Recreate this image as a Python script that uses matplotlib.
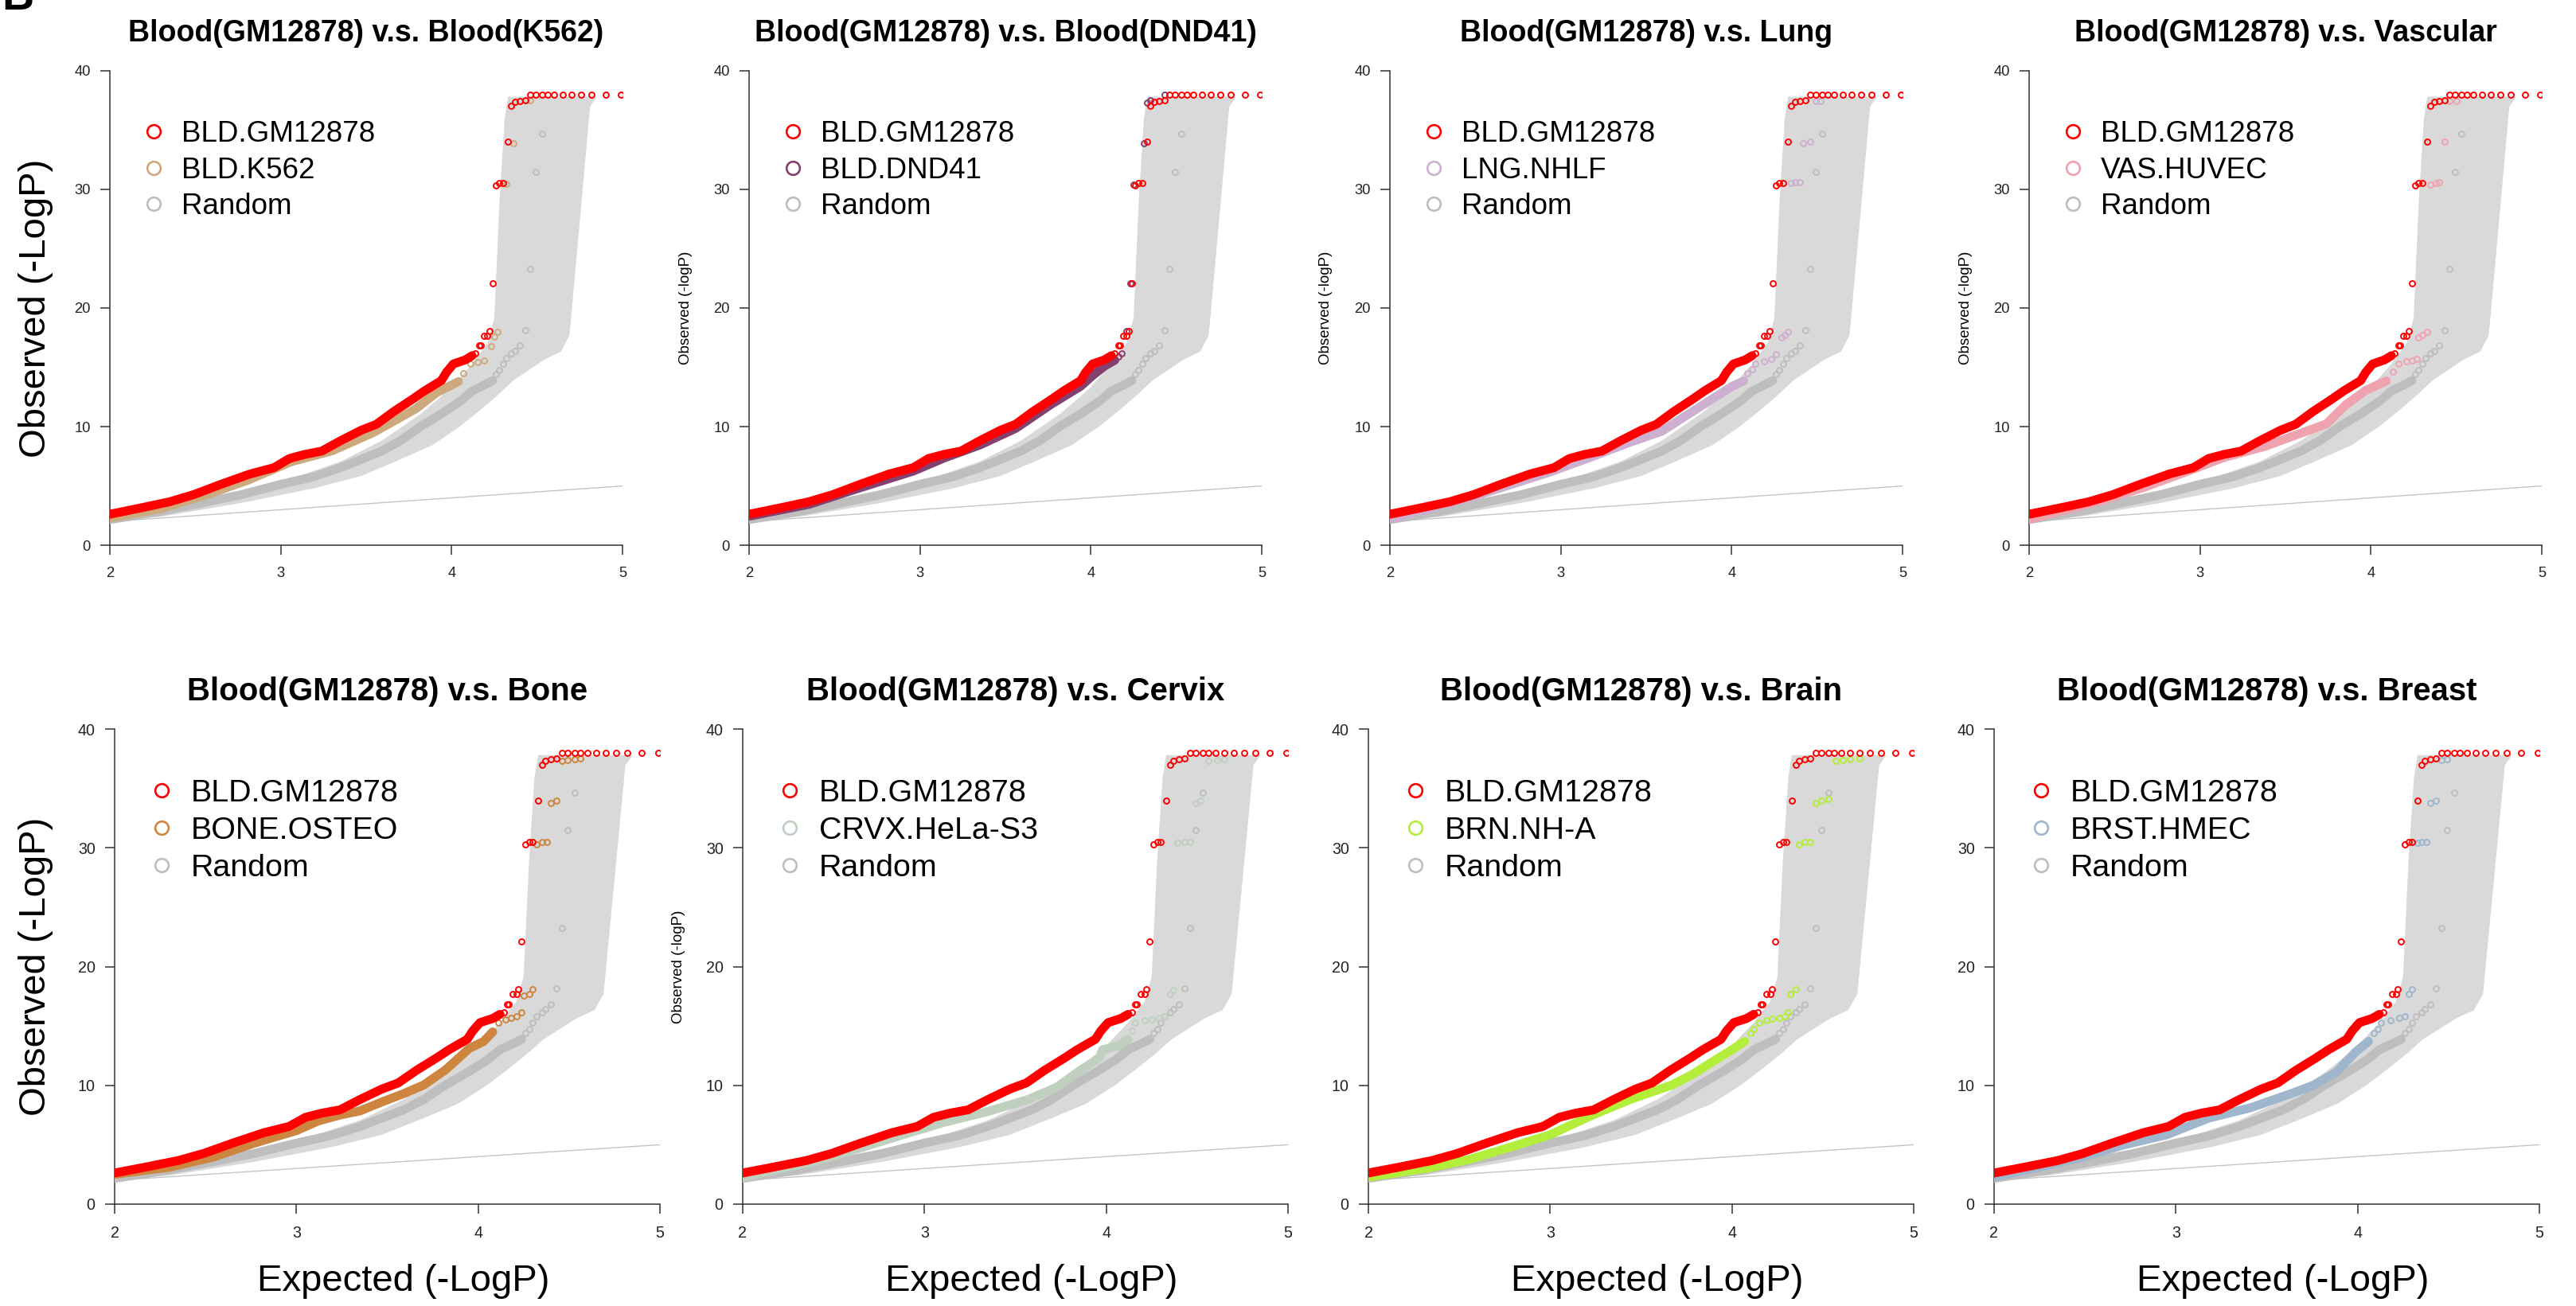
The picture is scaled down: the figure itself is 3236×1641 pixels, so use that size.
import matplotlib
matplotlib.use("Agg")
import matplotlib.pyplot as plt
from matplotlib.lines import Line2D

plt.rcParams['font.family'] = ['Liberation Sans', 'DejaVu Sans']

# ---- shared curves (same in every panel) ----
red_dense_x = [2.00, 2.18, 2.35, 2.49, 2.65, 2.82, 2.96, 3.05, 3.14, 3.24, 3.35, 3.47, 3.56, 3.66, 3.77, 3.84, 3.94, 3.97, 4.01, 4.08, 4.12]
red_dense_y = [2.62, 3.15, 3.67, 4.27, 5.14, 6.01, 6.54, 7.31, 7.66, 7.94, 8.81, 9.69, 10.2, 11.26, 12.3, 13.0, 13.88, 14.58, 15.28, 15.63, 15.98]
red_sparse_x = [4.14, 4.16, 4.17, 4.19, 4.21, 4.22, 4.24, 4.26, 4.28, 4.30, 4.33, 4.35, 4.37, 4.40, 4.43,
                4.46, 4.49, 4.53, 4.56, 4.60, 4.65, 4.70, 4.76, 4.82, 4.90, 4.99]
red_sparse_y = [16.15, 16.85, 16.85, 17.66, 17.66, 18.08, 22.1, 30.3, 30.5, 30.5, 34.0, 37.0, 37.34, 37.45, 37.5,
                38.0, 38.0, 38.0, 38.0, 38.0, 38.0, 38.0, 38.0, 38.0, 38.0, 38.0]

random_dense_x = [2.00, 2.30, 2.54, 2.77, 3.00, 3.19, 3.35, 3.47, 3.59, 3.70, 3.82, 3.94, 4.05, 4.12, 4.19, 4.24]
random_dense_y = [2.17, 2.87, 3.57, 4.27, 5.14, 5.77, 6.54, 7.24, 7.94, 8.81, 10.03, 11.08, 12.13, 13.0, 13.5, 13.88]
random_sparse_x = [4.26, 4.28, 4.30, 4.32, 4.35, 4.37, 4.40, 4.43, 4.46, 4.49, 4.53]
random_sparse_y = [14.4, 14.75, 15.28, 15.8, 16.15, 16.4, 16.85, 18.15, 23.25, 31.47, 34.65]

band_x = [2.00, 3.00, 3.35, 3.59, 3.82, 3.99, 4.12, 4.21, 4.25, 4.28, 4.31, 4.33, 4.85, 4.81, 4.76, 4.69,
          4.64, 4.54, 4.45, 4.36, 4.27, 4.17, 4.05, 3.89, 3.70, 3.47, 3.19, 2.77, 2.30, 2.00]
band_y = [2.27, 5.30, 7.06, 8.81, 11.08, 13.18, 15.28, 17.03, 19.13, 28.9, 35.9, 37.8, 37.8, 36.96, 28.9, 17.7,
          16.33, 15.63, 14.75, 13.88, 12.66, 11.43, 10.03, 8.46, 7.24, 5.84, 4.79, 3.57, 2.41, 2.06]

diag = [2, 5]

# ---- comparison cell types ----
titles = ["Blood(GM12878) v.s. Blood(K562)", "Blood(GM12878) v.s. Blood(DND41)",
          "Blood(GM12878) v.s. Lung", "Blood(GM12878) v.s. Vascular",
          "Blood(GM12878) v.s. Bone", "Blood(GM12878) v.s. Cervix",
          "Blood(GM12878) v.s. Brain", "Blood(GM12878) v.s. Breast"]
labels = ["BLD.K562", "BLD.DND41", "LNG.NHLF", "VAS.HUVEC", "BONE.OSTEO", "CRVX.HeLa-S3", "BRN.NH-A", "BRST.HMEC"]
colors = ["#CDAA7D", "#84406F", "#CDB0CF", "#EFA3AE", "#CD853F", "#BFD0BF", "#B3EE3A", "#9FB6CD"]

k562_dense_x = [2.00, 2.30, 2.57, 2.81, 3.06, 3.30, 3.54, 3.79, 3.91, 4.04]
k562_dense_y = [2.30, 3.10, 4.28, 5.50, 7.04, 7.96, 9.49, 11.5, 12.85, 13.8]
k562_sparse_x = [4.07, 4.11, 4.15, 4.19, 4.23, 4.25, 4.27, 4.32, 4.36, 4.46]
k562_sparse_y = [14.5, 15.3, 15.45, 15.6, 16.8, 17.6, 18.0, 30.45, 33.9, 37.5]

dnd41_dense_x = [2.00, 2.35, 2.65, 2.96, 3.14, 3.35, 3.56, 3.77, 3.94, 4.01, 4.08, 4.14]
dnd41_dense_y = [2.45, 3.45, 4.85, 6.25, 7.35, 8.45, 9.85, 11.9, 13.4, 14.3, 15.1, 15.6]
dnd41_sparse_x = [4.16, 4.18, 4.21, 4.23, 4.25, 4.31, 4.33, 4.35, 4.43]
dnd41_sparse_y = [15.9, 16.2, 18.06, 22.1, 30.36, 33.9, 37.3, 37.5, 37.95]

nhlf_dense_x = [2.00, 2.45, 2.69, 2.93, 3.17, 3.40, 3.59, 3.76, 3.88, 4.00, 4.07]
nhlf_dense_y = [2.2, 3.93, 5.04, 6.14, 7.4, 8.66, 9.6, 11.17, 12.27, 13.38, 13.85]
nhlf_sparse_x = [4.09, 4.12, 4.14, 4.19, 4.23, 4.26, 4.29, 4.31, 4.33, 4.35, 4.37, 4.40, 4.42, 4.46, 4.49, 4.52]
nhlf_sparse_y = [14.5, 14.8, 15.3, 15.5, 15.7, 16.1, 17.5, 17.7, 18.0, 30.5, 30.6, 30.6, 33.9, 34.0, 37.4, 37.45]

huvec_dense_x = [2.00, 2.43, 2.67, 2.91, 3.14, 3.38, 3.62, 3.74, 3.85, 3.97, 4.09]
huvec_dense_y = [2.2, 3.78, 4.88, 6.14, 7.4, 8.34, 9.6, 10.23, 11.8, 13.06, 13.85]
huvec_sparse_x = [4.13, 4.16, 4.21, 4.24, 4.27, 4.28, 4.30, 4.33, 4.35, 4.38, 4.40, 4.43, 4.46, 4.50]
huvec_sparse_y = [14.6, 15.3, 15.5, 15.6, 15.7, 17.5, 17.7, 18.0, 30.4, 30.5, 30.6, 34.0, 37.4, 37.45]

osteo_dense_x = [2.00, 2.30, 2.54, 2.77, 3.00, 3.12, 3.24, 3.35, 3.47, 3.59, 3.70, 3.82, 3.90, 3.95, 4.03, 4.08]
osteo_dense_y = [2.52, 3.10, 3.95, 5.14, 6.19, 7.0, 7.5, 7.85, 8.6, 9.3, 10.03, 11.3, 12.4, 13.1, 13.7, 14.5]
osteo_sparse_x = [4.11, 4.15, 4.18, 4.21, 4.24, 4.25, 4.28, 4.30, 4.32, 4.35, 4.38, 4.40, 4.43, 4.46, 4.49, 4.53, 4.56]
osteo_sparse_y = [15.28, 15.56, 15.7, 15.8, 16.15, 17.55, 17.66, 18.08, 30.3, 30.5, 30.5, 33.8, 33.95, 37.3, 37.4, 37.45, 37.5]

hela_dense_x = [2.00, 2.43, 2.66, 2.88, 3.11, 3.34, 3.57, 3.73, 3.84, 3.96, 3.98, 4.07, 4.12]
hela_dense_y = [2.27, 3.74, 4.79, 5.84, 6.89, 7.76, 8.81, 9.86, 11.08, 12.3, 13.0, 13.36, 13.88]
hela_sparse_x = [4.14, 4.16, 4.21, 4.25, 4.29, 4.32, 4.35, 4.37, 4.39, 4.43, 4.46, 4.49, 4.52, 4.56, 4.61, 4.65]
hela_sparse_y = [14.58, 15.28, 15.45, 15.56, 15.7, 15.8, 17.66, 18.0, 30.4, 30.5, 30.5, 33.8, 34.0, 37.3, 37.4, 37.45]

nha_dense_x = [2.00, 2.33, 2.55, 2.78, 3.00, 3.22, 3.44, 3.67, 3.78, 3.89, 4.00, 4.07]
nha_dense_y = [2.27, 3.04, 3.74, 4.79, 5.84, 7.41, 8.81, 10.03, 10.9, 11.96, 13.0, 13.7]
nha_sparse_x = [4.10, 4.12, 4.15, 4.19, 4.22, 4.26, 4.29, 4.31, 4.32, 4.35, 4.37, 4.40, 4.43, 4.46, 4.49, 4.53,
                4.57, 4.61, 4.65, 4.70]
nha_sparse_y = [14.4, 14.75, 15.28, 15.5, 15.63, 15.7, 15.8, 16.15, 17.66, 18.08, 30.3, 30.5, 30.5, 33.8, 33.95, 34.1,
                37.3, 37.4, 37.45, 37.5]

hmec_dense_x = [2.00, 2.48, 2.71, 2.95, 3.18, 3.41, 3.64, 3.76, 3.88, 3.99, 4.06]
hmec_dense_y = [2.27, 3.92, 4.97, 5.84, 7.24, 8.11, 9.34, 10.03, 11.08, 12.83, 13.7]
hmec_sparse_x = [4.09, 4.11, 4.13, 4.18, 4.23, 4.26, 4.28, 4.30, 4.33, 4.35, 4.38, 4.40, 4.43, 4.46, 4.49]
hmec_sparse_y = [14.4, 14.75, 15.28, 15.5, 15.7, 15.8, 17.66, 18.08, 30.4, 30.5, 30.5, 33.8, 33.95, 37.4, 37.45]

comp = [
    (k562_dense_x, k562_dense_y, k562_sparse_x, k562_sparse_y),
    (dnd41_dense_x, dnd41_dense_y, dnd41_sparse_x, dnd41_sparse_y),
    (nhlf_dense_x, nhlf_dense_y, nhlf_sparse_x, nhlf_sparse_y),
    (huvec_dense_x, huvec_dense_y, huvec_sparse_x, huvec_sparse_y),
    (osteo_dense_x, osteo_dense_y, osteo_sparse_x, osteo_sparse_y),
    (hela_dense_x, hela_dense_y, hela_sparse_x, hela_sparse_y),
    (nha_dense_x, nha_dense_y, nha_sparse_x, nha_sparse_y),
    (hmec_dense_x, hmec_dense_y, hmec_sparse_x, hmec_sparse_y),
]

# which y label each panel gets: 'big', 'small' or None
ylab_kind = ['big', 'small', 'small', 'small', 'big', 'small', None, None]

RED = "#FF0000"
GRAY = "#BEBEBE"
BAND = "#D9D9D9"

W, H = 3236, 1641
fig = plt.figure(figsize=(W / 100, H / 100), dpi=100)

# axes placement in pixels (left of x=2, width, top of y=40, bottom of y=0)
top_left = [138, 941, 1746, 2549]
bot_left = [144, 933, 1719, 2505]


def draw_panel(i):
    row = i // 4
    if row == 0:
        left, width, ytop, ybot = top_left[i], 644, 88.7, 685.2
        s = 1.0
    else:
        left, width, ytop, ybot = bot_left[i - 4], 685, 916, 1513
        s = 1.07
    ax = fig.add_axes([left / W, 1 - ybot / H, width / W, (ybot - ytop) / H])
    ax.set_xlim(2, 5)
    ax.set_ylim(0, 40)

    ax.fill(band_x, band_y, color=BAND, lw=0, zorder=1)
    ax.plot(diag, diag, color="#C4C4C4", lw=1.0, zorder=2)

    dx, dy, sx, sy = comp[i]
    col = colors[i]
    for xs, ys, xd, yd, c, z in [(random_dense_x, random_dense_y, random_sparse_x, random_sparse_y, GRAY, 3),
                                  (dx, dy, sx, sy, col, 4),
                                  (red_dense_x, red_dense_y, red_sparse_x, red_sparse_y, RED, 5)]:
        ax.plot(xs, ys, color=c, lw=8, solid_capstyle='round', solid_joinstyle='round', zorder=z)
        ax.plot(xd, yd, ls='none', marker='o', ms=5.0, mfc='none', mec=c, mew=1.4, zorder=z)

    for sp in ['top', 'right']:
        ax.spines[sp].set_visible(False)
    for sp in ['left', 'bottom']:
        ax.spines[sp].set_color('#333333')
        ax.spines[sp].set_linewidth(1.1)
    ax.set_xticks([2, 3, 4, 5])
    ax.set_yticks([0, 10, 20, 30, 40])
    ax.tick_params(axis='both', length=8.6, width=1.1, color='#333333',
                   labelsize=13.2 * s, labelcolor='#222222')
    ax.tick_params(axis='y', pad=8.9)
    ax.tick_params(axis='x', pad=10.5)

    ax.text(0.5, 1 + 47 / (ybot - ytop), titles[i], transform=ax.transAxes, ha='center', va='center',
            fontsize=27 * s, fontweight='bold')

    handles = [Line2D([], [], ls='none', marker='o', ms=12, mfc='none', mec=c, mew=1.9)
               for c in [RED, col, GRAY]]
    ax.legend(handles, ["BLD.GM12878", labels[i], "Random"], loc='upper left',
              bbox_to_anchor=(0.057, 0.895), frameon=False, borderpad=0, borderaxespad=0,
              handlelength=1.0, handletextpad=0.45, labelspacing=0.28,
              prop={'size': 26.5 * s})

    if ylab_kind[i] == 'big':
        fig.text(45 / W, 1 - (ytop + ybot) / 2 / H, "Observed (-LogP)", rotation=90,
                 ha='center', va='center', fontsize=34)
    elif ylab_kind[i] == 'small':
        fig.text((left - 80) / W, 1 - (ytop + ybot) / 2 / H, "Observed (-logP)", rotation=90,
                 ha='center', va='center', fontsize=13.5)
    if row == 1:
        fig.text((left + width / 2 + 20) / W, 1 - 1610 / H, "Expected (-LogP)",
                 ha='center', va='center', fontsize=34)


for i in range(8):
    draw_panel(i)

# panel letter, mostly cut off by the top edge as in the source figure
fig.text(2 / W, 1 - 12 / H, "B", ha='left', va='baseline', fontsize=40, fontweight='bold')

fig.savefig("out.png", dpi=100)
